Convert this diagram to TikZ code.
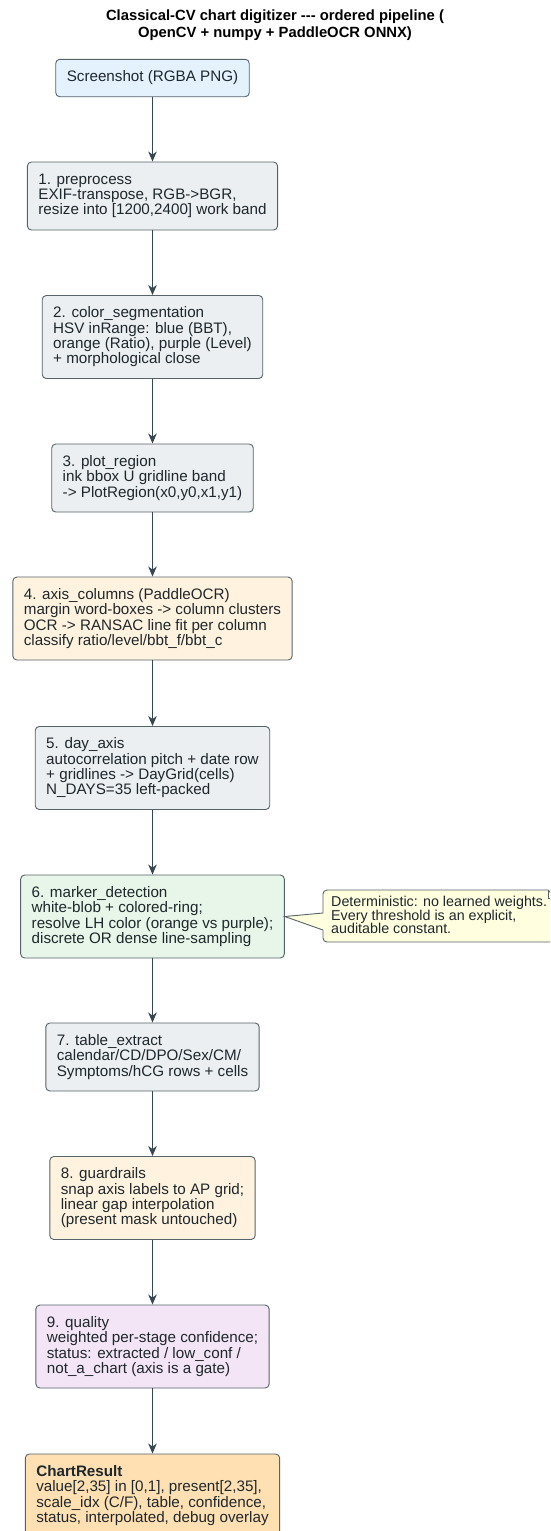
\documentclass[tikz,border=0pt]{standalone}
\usepackage{fontspec}
\setmainfont{Liberation Sans}
\usetikzlibrary{arrows.meta}
\definecolor{bordc}{HTML}{55636B}
\definecolor{arrc}{HTML}{37474F}
\definecolor{txtc}{HTML}{1E272C}
\definecolor{fblue}{HTML}{E3F2FD}
\definecolor{fgray}{HTML}{ECEFF1}
\definecolor{forange}{HTML}{FFF3E0}
\definecolor{fgreen}{HTML}{E8F5E9}
\definecolor{fpurple}{HTML}{F3E5F5}
\definecolor{fresult}{HTML}{FFE0B2}
\definecolor{fnote}{HTML}{FFFFE0}
\tikzset{
  box/.style={draw=bordc, line width=0.9pt, rounded corners=4pt, align=left,
    inner xsep=11pt, inner ysep=0pt, text=txtc,
    font=\fontsize{15.2}{15.3}\selectfont},
  lone/.style={minimum height=37.4pt},
  lthree/.style={minimum height=68pt},
  lfour/.style={minimum height=83pt},
  arr/.style={draw=arrc, line width=1.2pt, -{Stealth[length=10pt,width=8.5pt,inset=3pt]}},
  titlestyle/.style={align=center, text=black, font=\bfseries\fontsize{14.8}{16.5}\selectfont},
  notetext/.style={align=left, text=txtc, inner sep=0pt, font=\fontsize{14.3}{13.7}\selectfont},
}
\begin{document}
\begin{tikzpicture}[x=1pt,y=-1pt]
\useasboundingbox (0,0) rectangle (550,1531);
\clip (0,0) rectangle (550,1531);
\fill[white] (0,0) rectangle (550,1531);

\node[titlestyle] (title) at (275,25) {Classical-CV chart digitizer -{}-{}- ordered pipeline (\\OpenCV + numpy + PaddleOCR ONNX)};

\node[box, lone, fill=fblue] (s) at (152.5,78) {Screenshot (RGBA PNG)};
\node[box, lthree, fill=fgray] (b1) at (152.5,196) {1. preprocess\\EXIF-transpose, RGB->BGR,\\resize into [1200,2400] work band};
\node[box, lfour, fill=fgray] (b2) at (152.5,337) {2. color\_segmentation\\HSV inRange: blue (BBT),\\orange (Ratio), purple (Level)\\+ morphological close};
\node[box, lthree, fill=fgray] (b3) at (152.5,478) {3. plot\_region\\ink bbox U gridline band\\-> PlotRegion(x0,y0,x1,y1)};
\node[box, lfour, fill=forange] (b4) at (152.5,618.5) {4. axis\_columns (PaddleOCR)\\margin word-boxes -> column clusters\\OCR -> RANSAC line fit per column\\classify ratio/level/bbt\_f/bbt\_c};
\node[box, lfour, fill=fgray] (b5) at (152.5,768) {5. day\_axis\\autocorrelation pitch + date row\\+ gridlines -> DayGrid(cells)\\N\_DAYS=35 left-packed};
\node[box, lfour, fill=fgreen] (b6) at (152.5,916.5) {6. marker\_detection\\white-blob + colored-ring;\\resolve LH color (orange vs purple);\\discrete OR dense line-sampling};
\node[box, lthree, fill=fgray] (b7) at (152.5,1057) {7. table\_extract\\calendar/CD/DPO/Sex/CM/\\Symptoms/hCG rows + cells};
\node[box, lfour, fill=forange] (b8) at (152.5,1198) {8. guardrails\\snap axis labels to AP grid;\\linear gap interpolation\\(present mask untouched)};
\node[box, lfour, fill=fpurple] (b9) at (152.5,1346.5) {9. quality\\weighted per-stage confidence;\\status: extracted / low\_conf /\\not\_a\_chart (axis is a gate)};
\node[box, lfour, fill=fresult] (r) at (152.5,1495.5) {\textbf{ChartResult}\\value[2,35] in [0,1], present[2,35],\\scale\_idx (C/F), table, confidence,\\status, interpolated, debug overlay};

\draw[arr] (s) -- (b1);
\draw[arr] (b1) -- (b2);
\draw[arr] (b2) -- (b3);
\draw[arr] (b3) -- (b4);
\draw[arr] (b4) -- (b5);
\draw[arr] (b5) -- (b6);
\draw[arr] (b6) -- (b7);
\draw[arr] (b7) -- (b8);
\draw[arr] (b8) -- (b9);
\draw[arr] (b9) -- (r);

% note
\filldraw[fill=fnote, draw=bordc, line width=0.9pt] (548,890) [rounded corners=4pt] -- (323,890) -- (323,942) -- (560,942) [sharp corners] -- (560,898) -- (556,898) -- cycle;
\fill[fnote] (324.5,913) -- (b6.east) -- (324.5,930) -- cycle;
\draw[draw=bordc, line width=0.9pt] (323,913) -- (b6.east) -- (323,930);
\draw[draw=bordc, line width=0.9pt] (548,890) -- (548,898) -- (556,898);
\node[notetext, anchor=north west] (note) at (331,896) {Deterministic: no learned weights.\\Every threshold is an explicit,\\auditable constant.};
\end{tikzpicture}
\end{document}
